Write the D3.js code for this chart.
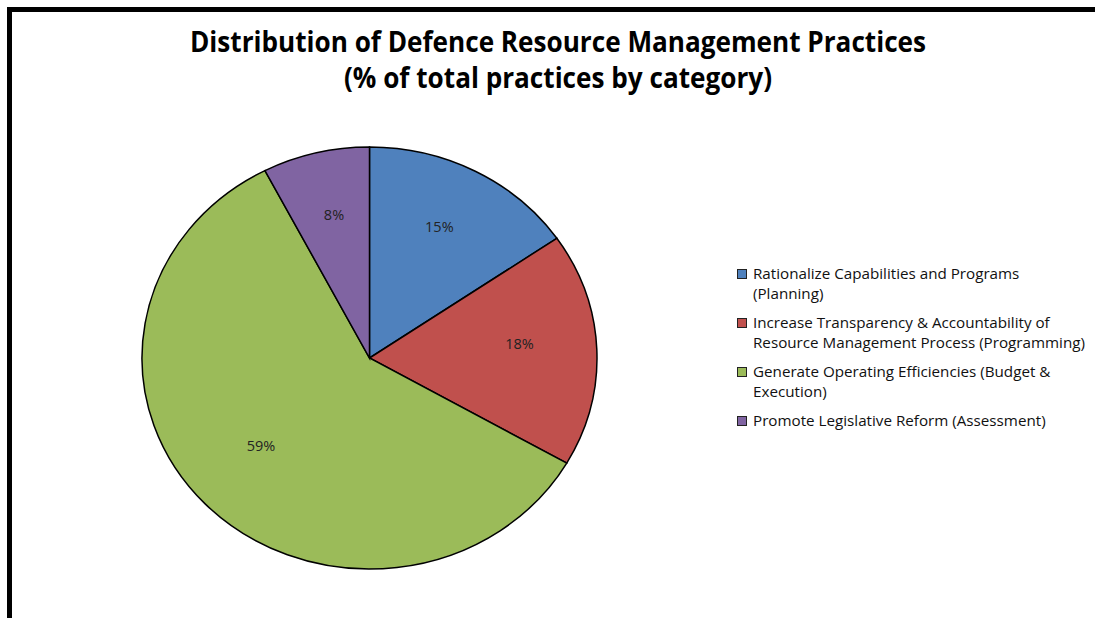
<!DOCTYPE html>
<html>
<head>
<meta charset="utf-8">
<script src="https://cdn.jsdelivr.net/npm/d3@7"></script>
<style>
    body { margin: 0; background: #fff; }
    svg text { font-family: "Open Sans", "DejaVu Sans", sans-serif; }
</style>
</head>
<body>
<div id="chart"></div>
<script>
// data
let categories = [
    ["Rationalize Capabilities  and Programs", "(Planning)"],
    ["Increase Transparency & Accountability of", "Resource Management Process (Programming)"],
    ["Generate Operating Efficiencies (Budget &", "Execution)"],
    ["Promote Legislative Reform (Assessment)"]
];
let shares = [15.4, 17.9, 59.1, 7.6];
let shareLabels = ["15%", "18%", "59%", "8%"];
let colors = ["#4F81BD", "#C0504D", "#9BBB59", "#8064A2"];
let titleLines = ["Distribution of Defence Resource Management Practices", "(% of total practices by category)"];

let width = 1095, height = 618;

let svg = d3.select("#chart").append("svg")
    .attr("width", width)
    .attr("height", height);

// frame (top and left edges only)
svg.append("line").attr("x1", 7).attr("x2", width).attr("y1", 9.5).attr("y2", 9.5)
    .attr("stroke", "#000").attr("stroke-width", 5);
svg.append("line").attr("x1", 9.5).attr("x2", 9.5).attr("y1", 7).attr("y2", height)
    .attr("stroke", "#000").attr("stroke-width", 5);

// title
let titleWidths = [736, 428];
svg.selectAll(".title")
    .data(titleLines)
    .enter().append("text")
    .attr("class", "title")
    .attr("x", 558)
    .attr("y", (d, i) => 52 + i * 36)
    .attr("text-anchor", "middle")
    .attr("font-size", 29)
    .attr("font-weight", "bold")
    .attr("fill", "#000")
    .attr("textLength", (d, i) => titleWidths[i])
    .attr("lengthAdjust", "spacingAndGlyphs")
    .text(d => d);

// pie (slightly stretched horizontally like the original)
let cx = 369.5, cy = 358, rx = 227.5, ry = 211;
let sx = rx / ry;

let pie = d3.pie().sort(null).value(d => d);
let arcs = pie(shares);
let arc = d3.arc().innerRadius(0).outerRadius(ry);

let pieG = svg.append("g")
    .attr("transform", `translate(${cx},${cy}) scale(${sx},1)`);

pieG.selectAll(".slice")
    .data(arcs)
    .enter().append("path")
    .attr("class", "slice")
    .attr("d", arc)
    .attr("fill", (d, i) => colors[i])
    .attr("stroke", "#000")
    .attr("stroke-width", 1.5)
    .attr("vector-effect", "non-scaling-stroke");

// percentage labels
let labelArc = d3.arc().innerRadius(ry * 0.66).outerRadius(ry * 0.66);
svg.selectAll(".pct")
    .data(arcs)
    .enter().append("text")
    .attr("class", "pct")
    .attr("x", d => cx + labelArc.centroid(d)[0] * sx)
    .attr("y", d => cy + labelArc.centroid(d)[1] - 8)
    .attr("dy", "0.35em")
    .attr("text-anchor", "middle")
    .attr("font-size", 14.5)
    .attr("fill", "#222")
    .text((d, i) => shareLabels[i]);

// legend
let legend = svg.append("g").attr("transform", "translate(737,274)");
let lineH = 19.5, gap = 10;
let offsets = [];
let yy = 0;
categories.forEach(c => { offsets.push(yy); yy += c.length * lineH + gap; });

let items = legend.selectAll(".item")
    .data(categories)
    .enter().append("g")
    .attr("class", "item")
    .attr("transform", (d, i) => `translate(0,${offsets[i]})`);

items.append("rect")
    .attr("x", 0.5).attr("y", -4.5)
    .attr("width", 9).attr("height", 9)
    .attr("fill", (d, i) => colors[i])
    .attr("stroke", "#222")
    .attr("stroke-width", 1);

items.selectAll("text")
    .data(d => d)
    .enter().append("text")
    .attr("x", 16)
    .attr("y", (d, j) => j * lineH)
    .attr("dy", "0.35em")
    .attr("font-size", 15.2)
    .attr("fill", "#111")
    .text(d => d);
</script>
</body>
</html>
